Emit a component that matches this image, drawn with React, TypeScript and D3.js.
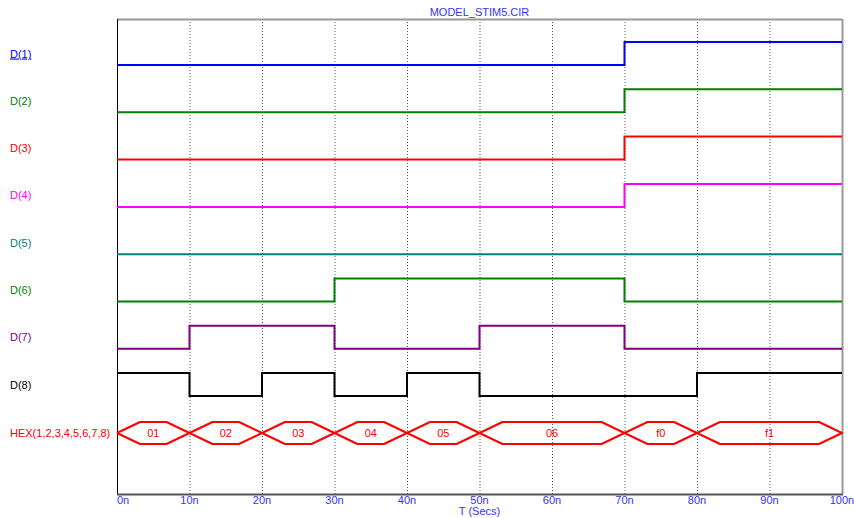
import React from "react";
import * as d3 from "d3";

const signalNames = ["D(1)", "D(2)", "D(3)", "D(4)", "D(5)", "D(6)", "D(7)", "D(8)"];
const signalColors = ["#0000ff", "#008000", "#ff0000", "#ff00ff", "#008080", "#008000", "#800080", "#000000"];
// transitions: [time ns, level]
const d1: [number, number][] = [[0, 0], [70, 1], [100, 1]];
const d2: [number, number][] = [[0, 0], [70, 1], [100, 1]];
const d3s: [number, number][] = [[0, 0], [70, 1], [100, 1]];
const d4: [number, number][] = [[0, 0], [70, 1], [100, 1]];
const d5: [number, number][] = [[0, 0], [100, 0]];
const d6: [number, number][] = [[0, 0], [30, 1], [70, 0], [100, 0]];
const d7: [number, number][] = [[0, 0], [10, 1], [30, 0], [50, 1], [70, 0], [100, 0]];
const d8: [number, number][] = [[0, 1], [10, 0], [20, 1], [30, 0], [40, 1], [50, 0], [80, 1], [100, 1]];
const signals = [d1, d2, d3s, d4, d5, d6, d7, d8];

const busName = "HEX(1,2,3,4,5,6,7,8)";
const busStarts = [0, 10, 20, 30, 40, 50, 70, 80];
const busEnds = [10, 20, 30, 40, 50, 70, 80, 100];
const busValues = ["01", "02", "03", "04", "05", "06", "f0", "f1"];

const xTicks = [0, 10, 20, 30, 40, 50, 60, 70, 80, 90, 100];
const title = "MODEL_STIM5.CIR";
const xLabel = "T (Secs)";

export default function App() {
  const W = 854, H = 518;
  const left = 117, right = 842, top = 19, bottom = 494;
  const x = d3.scaleLinear().domain([0, 100]).range([left, right]);
  const rowLow = (i: number) => 65 + i * 47.3;
  const amp = 23;
  const font = "'Liberation Sans', Arial, sans-serif";

  const lineFor = (i: number) =>
    d3.line<[number, number]>()
      .x((d) => x(d[0]))
      .y((d) => rowLow(i) - d[1] * amp)
      .curve(d3.curveStepAfter);

  const busY = 433;
  const busH = 11;
  const ramp = 23;

  return (
    <svg width={W} height={H} style={{ position: "absolute", left: 0, top: 0, background: "#fff" }}>
      <rect x={0} y={0} width={W} height={H} fill="#fff" />
      <text x={(left + right) / 2} y={16} textAnchor="middle" fontFamily={font} fontSize={11} fill="#3333ff">{title}</text>
      {/* grid */}
      {xTicks.slice(1, -1).map((t) => (
        <line key={t} x1={x(t) + 0.5} x2={x(t) + 0.5} y1={top} y2={bottom} stroke="#555" strokeWidth={1} strokeDasharray="1,2" />
      ))}
      {/* frame */}
      <line x1={left} x2={right} y1={top + 0.5} y2={top + 0.5} stroke="#999" strokeWidth={2} />
      <line x1={right + 0.5} x2={right + 0.5} y1={top} y2={bottom} stroke="#999" strokeWidth={2} />
      <line x1={left + 0.5} x2={left + 0.5} y1={top} y2={bottom} stroke="#000" strokeWidth={1} />
      <line x1={left} x2={right + 1} y1={bottom + 0.5} y2={bottom + 0.5} stroke="#555" strokeWidth={2} />
      {/* signals */}
      {signals.map((s, i) => (
        <g key={i}>
          <path d={lineFor(i)(s) || ""} fill="none" stroke={signalColors[i]} strokeWidth={2} />
          <text x={10} y={rowLow(i) - amp / 2 + 4} fontFamily={font} fontSize={11} fill={signalColors[i]}
            textDecoration={i === 0 ? "underline" : undefined}>{signalNames[i]}</text>
        </g>
      ))}
      {/* bus */}
      <text x={10} y={busY + 4} fontFamily={font} fontSize={11} fill="#ff0000">{busName}</text>
      {busValues.map((v, i) => {
        const x0 = x(busStarts[i]);
        const x1 = x(busEnds[i]);
        const p = [
          [x0, busY], [x0 + ramp, busY - busH], [x1 - ramp, busY - busH],
          [x1, busY], [x1 - ramp, busY + busH], [x0 + ramp, busY + busH], [x0, busY],
        ];
        return (
          <g key={i}>
            <path d={d3.line()(p as [number, number][]) || ""} fill="none" stroke="#ff0000" strokeWidth={2} strokeLinejoin="round" />
            <text x={(x0 + x1) / 2} y={busY + 4} textAnchor="middle" fontFamily={font} fontSize={11} fill="#ff0000">{v}</text>
          </g>
        );
      })}
      {/* x ticks */}
      {xTicks.map((t) => (
        <text key={t} x={t === 0 ? x(t) : x(t)} y={504} textAnchor={t === 0 ? "start" : "middle"}
          fontFamily={font} fontSize={11} fill="#3333ff">{`${t}n`}</text>
      ))}
      <text x={(left + right) / 2} y={515} textAnchor="middle" fontFamily={font} fontSize={11} fill="#3333ff">{xLabel}</text>
    </svg>
  );
}
